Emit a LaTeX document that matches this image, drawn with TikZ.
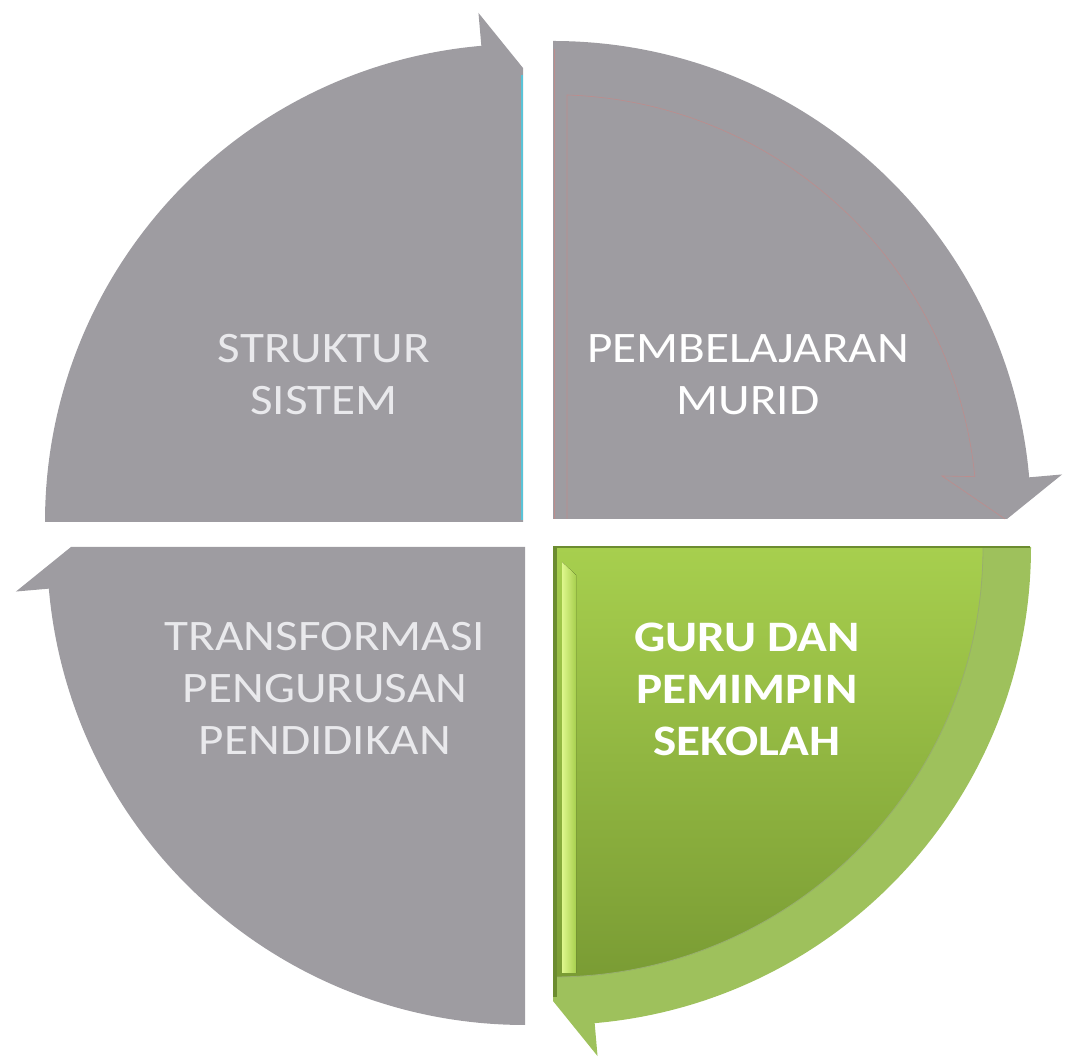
\documentclass[tikz,border=0pt]{standalone}
\usepackage{fontspec}
\setmainfont{Carlito}
\newfontfamily\quadfont[FakeStretch=1.13]{Carlito}
\definecolor{quadgray}{RGB}{158,156,161}
\definecolor{textgray}{RGB}{233,233,236}
\definecolor{greenband}{RGB}{158,193,92}
\definecolor{greentop}{RGB}{167,207,78}
\definecolor{greenbot}{RGB}{122,156,52}
\definecolor{greenedge}{RGB}{108,140,48}
\definecolor{greenlight}{RGB}{222,247,140}
\definecolor{faintred}{RGB}{190,140,140}
\definecolor{faintcyan}{RGB}{90,195,215}

\begin{document}
\begin{tikzpicture}[x=1pt,y=1pt,
  quadrant/.style={fill=quadgray},
  quadtext/.style={font=\quadfont\fontsize{43.5}{52}\selectfont, align=center, inner sep=0pt}]
\useasboundingbox (0,0) rectangle (1065,1059);
% Top left: Struktur sistem
\begin{scope}[shift={(523,537)},rotate=90]
\fill [quadrant] (0,0) -- (0,478) arc [start angle=90, end angle=5, radius=478] -- (5:511) -- (0:454) -- cycle;
\end{scope}
\draw [faintcyan, line width=1.2] (522,539) -- (522,984);
% Top right: Pembelajaran murid
\begin{scope}[shift={(553,540)}]
\fill [quadrant] (0,0) -- (0,478) arc [start angle=90, end angle=5, radius=478] -- (5:511) -- (0:454) -- cycle;
% faint inner face
\draw [faintred, line width=0.6] (14,0) -- (14,424) arc [start angle=88.1, end angle=5.7, radius=424] -- (389,43) -- (0:452);
\draw [faintred, line width=0.8] (1,0) -- (1,470);
\end{scope}
% Bottom left: Transformasi
\begin{scope}[shift={(525,512)},rotate=180]
\fill [quadrant] (0,0) -- (0,478) arc [start angle=90, end angle=5, radius=478] -- (5:511) -- (0:454) -- cycle;
\end{scope}
% Bottom right: Guru dan pemimpin (band)
\begin{scope}[shift={(553,512)},rotate=270]
\fill [greenband] (0,0) -- (0,478) arc [start angle=90, end angle=5, radius=478] -- (5:511) -- (0:454) -- cycle;
\end{scope}
% Green face
\path [top color=greentop, bottom color=greenbot] (553,512) -- (983,512) arc [start angle=0, end angle=-90, radius=430] -- cycle;
\draw [greenedge!70, line width=0.8] (983,512) arc [start angle=0, end angle=-90, radius=430];
% Left edge and highlight
\fill [greenedge] (553,512) rectangle (557,62);
\fill [left color=greenlight, right color=greentop] (562,497) -- (576,484) -- (576,86) -- (562,86) -- cycle;
\draw [greenedge, line width=1.2] (553,512) -- (1030,512);
% Labels
\node [quadtext, text=textgray] (struktur) at (324,684) {STRUKTUR\\SISTEM};
\node [quadtext, text=white] (murid) at (748,684) {PEMBELAJARAN\\MURID};
\node [quadtext, text=textgray] (transformasi) at (325,370.5) {TRANSFORMASI\\PENGURUSAN\\PENDIDIKAN};
\node [quadtext, text=white, font=\quadfont\fontsize{43.5}{52}\selectfont\bfseries] (guru) at (747,370) {GURU DAN\\PEMIMPIN\\SEKOLAH};
\end{tikzpicture}
\end{document}
